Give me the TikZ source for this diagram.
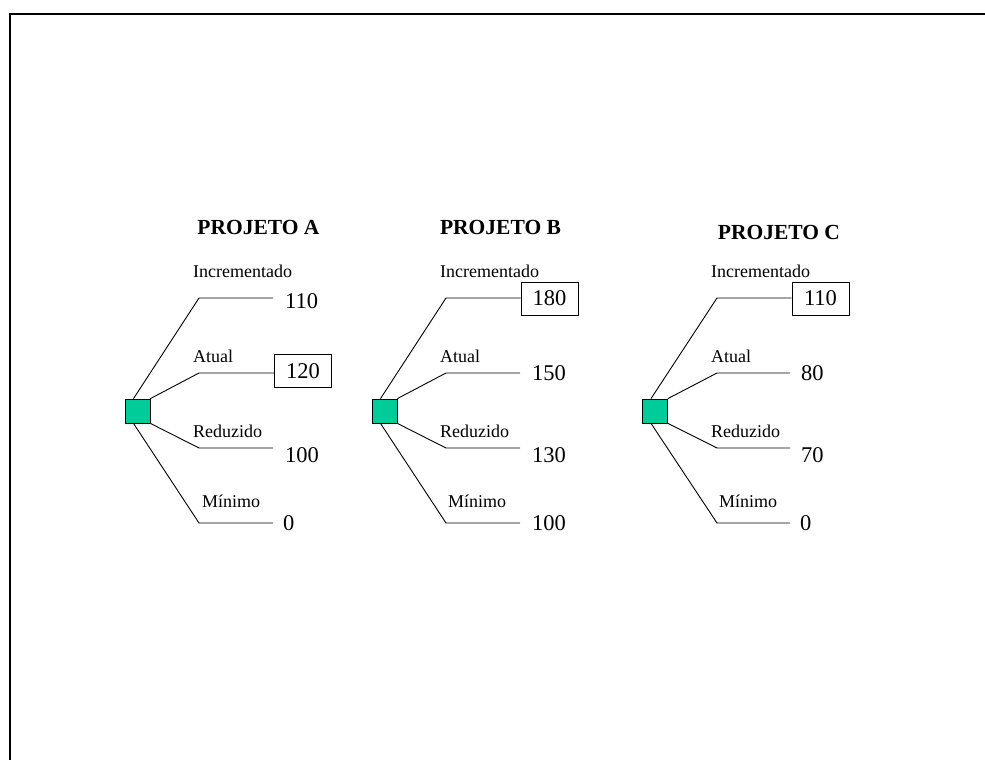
\documentclass[tikz,border=0pt]{standalone}
\usepackage{fontspec}
\setmainfont{Liberation Serif}
\definecolor{nodegreen}{RGB}{0,204,153}
\begin{document}
\begin{tikzpicture}[x=1pt,y=-1pt,
  decision/.style={draw=black, fill=nodegreen, line width=0.8pt,
    minimum width=25pt, minimum height=24pt, inner sep=0pt},
  branch/.style={draw=black, line width=0.9pt},
  title/.style={font=\fontsize{21.5}{24}\selectfont\bfseries, anchor=base, inner sep=0pt},
  choice/.style={font=\fontsize{18}{20}\selectfont, anchor=base west, inner sep=0pt},
  payoff/.style={font=\fontsize{22.5}{24}\selectfont, anchor=base west, inner sep=0pt},
  best/.style={draw=black, line width=0.9pt, font=\fontsize{22.5}{24}\selectfont,
    minimum width=57pt, minimum height=33pt, inner sep=0pt},
  frame/.style={line width=2pt}]
\useasboundingbox (0,0) rectangle (985,760);

% page frame (top and left edges)
\draw[frame] (10,760) -- (10,14.3) -- (985,14.3);

% ---------- Projeto A ----------
\begin{scope}[xshift=137.5pt]
  \node[title] (tA) at (121,234) {PROJETO A};
  \node[decision] (sqA) at (0,411) {};
  \coordinate (kA1) at (61.5,298); \coordinate (eA1) at (135.5,298);
  \coordinate (kA2) at (61.5,373);
  \coordinate (kA3) at (61.5,448); \coordinate (eA3) at (135.5,448);
  \coordinate (kA4) at (61.5,523); \coordinate (eA4) at (135.5,523);
  \node[best] (vA2) at (165.5,371) {120};
  \draw[branch] ([xshift=-4pt]sqA.north) -- (kA1) -- (eA1);
  \draw[branch] (sqA.north east) -- (kA2) -- (kA2 -| vA2.west);
  \draw[branch] (sqA.south east) -- (kA3) -- (eA3);
  \draw[branch] ([xshift=-4pt]sqA.south) -- (kA4) -- (eA4);
  \node[choice] (lA1) at (55.5,277) {Incrementado};
  \node[choice] (lA2) at (55.5,362) {Atual};
  \node[choice] (lA3) at (55.5,437) {Reduzido};
  \node[choice] (lA4) at (64.5,507) {Mínimo};
  \node[payoff] (vA1) at (147.5,308) {110};
  \node[payoff] (vA3) at (147.5,462) {100};
  \node[payoff] (vA4) at (145.5,530) {0};
\end{scope}

% ---------- Projeto B ----------
\begin{scope}[xshift=384.5pt]
  \node[title] (tB) at (116,234) {PROJETO B};
  \node[decision] (sqB) at (0,411) {};
  \coordinate (kB1) at (61.5,298);
  \coordinate (kB2) at (61.5,373); \coordinate (eB2) at (135.5,373);
  \coordinate (kB3) at (61.5,448); \coordinate (eB3) at (135.5,448);
  \coordinate (kB4) at (61.5,523); \coordinate (eB4) at (135.5,523);
  \node[best] (vB1) at (165,298.5) {180};
  \draw[branch] ([xshift=-4pt]sqB.north) -- (kB1) -- (kB1 -| vB1.west);
  \draw[branch] (sqB.north east) -- (kB2) -- (eB2);
  \draw[branch] (sqB.south east) -- (kB3) -- (eB3);
  \draw[branch] ([xshift=-4pt]sqB.south) -- (kB4) -- (eB4);
  \node[choice] (lB1) at (55.5,277) {Incrementado};
  \node[choice] (lB2) at (55.5,362) {Atual};
  \node[choice] (lB3) at (55.5,437) {Reduzido};
  \node[choice] (lB4) at (63.5,507) {Mínimo};
  \node[payoff] (vB2) at (147.5,380) {150};
  \node[payoff] (vB3) at (147.5,462) {130};
  \node[payoff] (vB4) at (147.5,530) {100};
\end{scope}

% ---------- Projeto C ----------
\begin{scope}[xshift=655pt]
  \node[title] (tC) at (124,239) {PROJETO C};
  \node[decision] (sqC) at (0,411) {};
  \coordinate (kC1) at (62,298);
  \coordinate (kC2) at (62,373); \coordinate (eC2) at (135,373);
  \coordinate (kC3) at (62,448); \coordinate (eC3) at (135,448);
  \coordinate (kC4) at (62,523); \coordinate (eC4) at (135,523);
  \node[best] (vC1) at (165.5,298.5) {110};
  \draw[branch] ([xshift=-4pt]sqC.north) -- (kC1) -- (kC1 -| vC1.west);
  \draw[branch] (sqC.north east) -- (kC2) -- (eC2);
  \draw[branch] (sqC.south east) -- (kC3) -- (eC3);
  \draw[branch] ([xshift=-4pt]sqC.south) -- (kC4) -- (eC4);
  \node[choice] (lC1) at (56,277) {Incrementado};
  \node[choice] (lC2) at (56,362) {Atual};
  \node[choice] (lC3) at (56,437) {Reduzido};
  \node[choice] (lC4) at (64,507) {Mínimo};
  \node[payoff] (vC2) at (146,380) {80};
  \node[payoff] (vC3) at (146,462) {70};
  \node[payoff] (vC4) at (145,530) {0};
\end{scope}
\end{tikzpicture}
\end{document}
